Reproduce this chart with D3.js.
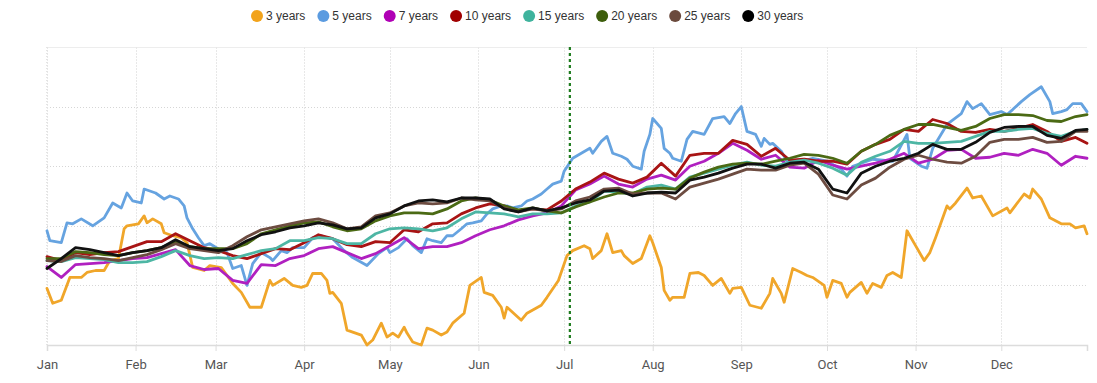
<!DOCTYPE html>
<html>
<head>
<meta charset="utf-8">
<script src="https://cdn.jsdelivr.net/npm/d3@7"></script>
<style>
  html, body { margin: 0; padding: 0; background: #fff; }
  svg { display: block; }
</style>
</head>
<body>
<svg id="chart" width="1097" height="383"></svg>
<script>
// ---------- DATA ----------
const year = 2023;
// shared sampling (day of year, 0 = Jan 1) for the clustered maturities
const daysCommon = [0,5,10,15,20,25,30,35,40,45,50,55,60,65,70,75,80,85,90,95,
  100,105,110,115,120,125,130,135,140,145,150,155,160,165,170,175,180,185,190,195,
  200,205,210,215,220,225,230,235,240,245,250,255,260,265,270,275,280,285,290,295,
  300,305,310,315,320,325,330,335,340,345,350,355,360,364];

// 3 years (finer sampling)
const days3 = [0,2,5,8,12,14,17,20,22,25, 27,28,32,34,35,37,40,41,44,47, 49,51,55,57,61,65,68,71,75,78,
  79,83,86,89,91,93,96,98,99,100, 103,105,110,112,114,117,119,121,123,125, 126,128,131,133,135,138,140,142,146,148,
  152,153,156,159,160,161,166,168,173,175, 179,182,184,188,190,191,194,196,198,201, 202,205,208,211,212,215,216,218,219,223,
  225,228,230,233,236,239,240,243,246,250, 253,254,257,258,261,264,266,268,272,273, 275,278,280,281,285,287,289,292,294,296,
  299,301,304,307,309,311,315,316,318,322, 324,327,331,336,337,342,344,345,348,351, 355,358,360,363,364];
const y3 = [57,42,45,68,68,73,75,75,85,87, 117,120,122,130,123,127,122,113,110,108, 103,78,75,80,78,62,53,38,38,65,
  60,67,60,58,60,72,72,65,52,53, 42,15,10,0,5,22,8,12,8,18, 12,3,0,17,15,10,13,22,32,60,
  68,53,50,38,27,38,25,32,40,48, 65,90,95,100,97,87,95,112,93,95, 90,82,87,110,103,78,55,45,48,48,
  72,73,70,60,67,52,57,58,40,37, 52,67,52,43,77,73,70,68,60,48, 65,62,48,53,63,52,62,58,70,73,
  68,115,100,85,93,108,140,137,143,158, 148,150,130,138,133,152,148,157,147,128, 122,122,118,120,112];

// 5 years (finer sampling)
const days5 = [0,1,5,7,9,12,16,20,23,26, 28,30,33,34,38,41,43,46,48,49, 51,53,55,57,61,63,65,68,70,72,
  75,78,79,82,84,86,90,93,96,98, 100,104,107,112,116,119,120,123,126,128, 131,133,135,138,140,142,145,147,149,152,
  154,156,159,161,163,166,168,170,173,175, 177,180,181,184,187,190,191,194,196,198, 201,203,205,208,209,211,212,215,216,218,
  219,222,224,226,230,233,237,239,241,243, 245,247,248,250,251,253,254,257,259,264, 268,273,278,280,282,289,296,301,302,306,
  308,310,315,320,322,324,327,330,334,336, 338,341,344,348,351,352,355,357,359,362, 364];
const y5 = [115,105,103,123,122,127,120,128,143,138, 153,145,143,157,153,147,150,147,140,128, 117,108,100,102,95,93,77,80,60,82,
  93,88,85,95,93,98,98,108,110,108, 107,95,88,80,92,98,93,98,107,100, 93,107,105,103,110,110,117,122,123,125,
  132,137,140,140,138,140,145,147,152,157, 162,165,175,188,193,198,193,205,210,193, 190,187,180,177,195,212,228,218,198,193,
  188,185,207,215,212,228,230,223,233,240, 215,213,212,200,208,202,203,195,185,185, 188,185,177,170,180,187,185,212,188,180,
  178,198,222,233,245,238,243,232,235,232, 237,245,252,260,245,233,235,237,243,243, 235];

const y7  = [79,68,81,82,83,85,87,88,92,96, 80,76,77,65,62,81,80,87,90,97, 99,93,87,92,100,108,97,99,99,103,
             110,116,120,126,130,133,140,156,162,170, 162,159,167,171,166,180,185,193,203,196, 187,191,179,178,186,181,177,180,183,187,
             193,183,187,196,197,188,189,193,191,197, 193,181,190,188];
const y10 = [89,85,93,91,93,94,99,104,104,112, 105,98,95,90,87,92,97,96,103,111, 107,101,99,104,103,116,114,122,123,132,
             138,142,140,135,137,136,145,157,164,173, 167,163,169,183,170,191,193,193,206,202, 190,198,186,187,185,185,182,195,202,207,
             217,215,227,223,215,214,217,215,218,222, 215,205,209,203];
const y15 = [85,84,88,87,86,83,83,84,89,95, 90,87,88,87,91,95,97,105,105,108, 107,102,102,112,117,118,117,115,118,127,
             134,133,132,129,132,132,133,140,144,155, 154,152,159,161,157,169,173,177,181,184, 181,180,184,186,183,178,171,184,190,195,
             205,203,203,204,205,210,215,215,217,218, 213,210,215,217];
const y20 = [87,87,94,93,91,90,93,95,98,104, 99,97,97,97,102,112,116,120,123,124, 119,115,117,125,130,133,133,132,137,145,
             148,146,140,136,138,135,133,139,144,149, 153,153,157,158,157,168,174,179,182,183, 182,185,188,192,191,188,183,195,202,211,
             217,222,222,219,216,220,228,232,232,231, 226,225,230,232];
const y25 = [85,84,90,88,87,85,88,91,96,102, 97,95,93,100,109,116,119,122,125,127, 123,117,119,130,133,140,143,142,143,148,
             146,145,138,134,137,135,137,145,149,157, 158,152,153,153,147,159,163,167,172,177, 176,176,181,183,172,151,147,161,168,179,
             187,191,187,184,183,190,204,207,207,209, 204,205,215,215];
const y30 = [77,87,98,96,93,90,93,95,98,106, 99,97,95,97,105,111,114,118,120,123, 121,117,118,128,132,140,145,146,144,148,
             148,147,137,134,138,135,138,143,146,155, 156,150,153,154,153,166,169,173,178,182, 182,178,183,184,177,157,153,173,180,185,
             188,193,202,197,197,204,214,219,220,220, 211,208,216,217];

const seriesNames  = ["3 years","5 years","7 years","10 years","15 years","20 years","25 years","30 years"];
const seriesColors = ["#f0a62a","#66a3e0","#b020c0","#a81414","#4db6a4","#4b6a14","#6d4c41","#111111"];
const legendColors = ["#f2a31b","#5b9be0","#b000b5","#a00000","#3fb39d","#3d5e0c","#6b4a3d","#000000"];
const seriesDays   = [days3, days5, daysCommon, daysCommon, daysCommon, daysCommon, daysCommon, daysCommon];
const seriesValues = [y3, y5, y7, y10, y15, y20, y25, y30];

const yTicks = [60, 120, 180, 240, 300];
const markerDay = 183; // Jul 3

// ---------- LAYOUT ----------
const svg = d3.select("#chart");
const plotLeft = 47, plotRight = 1087, plotTop = 47, plotBottom = 345;
const jan1 = new Date(year, 0, 1);
const dayToDate = d => d3.timeDay.offset(jan1, d);

const x = d3.scaleTime()
  .domain([jan1, new Date(year, 11, 31)])
  .range([plotLeft, plotRight]);
const y = d3.scaleLinear().domain([0, 300]).range([plotBottom, plotTop]);

// Horizontal grid
svg.append("g").selectAll("line").data(yTicks).join("line")
  .attr("x1", plotLeft).attr("x2", plotRight)
  .attr("y1", d => Math.round(y(d)) + 0.5).attr("y2", d => Math.round(y(d)) + 0.5)
  .attr("stroke", d => d === 300 ? "#ededed" : "#d6d6d6")
  .attr("stroke-width", 1)
  .attr("stroke-dasharray", d => d === 300 ? null : "1,2");

// Vertical grid at months
const months = x.ticks(d3.timeMonth.every(1));
svg.append("g").selectAll("line").data(months).join("line")
  .attr("x1", d => Math.round(x(d)) + 0.5).attr("x2", d => Math.round(x(d)) + 0.5)
  .attr("y1", plotTop).attr("y2", plotBottom)
  .attr("stroke", "#e8e8e8")
  .attr("stroke-width", 1)
  .attr("stroke-dasharray", "2,1");

// Left dotted edge
svg.append("line")
  .attr("x1", plotLeft).attr("x2", plotLeft).attr("y1", plotTop).attr("y2", plotBottom)
  .attr("stroke", "#e4e4e4").attr("stroke-width", 2).attr("stroke-dasharray", "1,2");

// X axis
const xAxis = d3.axisBottom(x)
  .ticks(d3.timeMonth.every(1))
  .tickFormat(d3.timeFormat("%b"))
  .tickSize(6)
  .tickPadding(9);
const gx = svg.append("g").attr("transform", `translate(0,${plotBottom})`).call(xAxis);
gx.select(".domain").attr("stroke", "#dcdcdc").attr("stroke-width", 1.5);
gx.selectAll(".tick line").attr("stroke", "#dcdcdc");
gx.selectAll(".tick text")
  .attr("fill", "#555")
  .style("font-family", "Roboto, 'Noto Sans', sans-serif")
  .style("font-size", "13px");

// Lines
const seriesData = seriesValues.map((vals, i) =>
  vals.map((v, j) => ({ date: dayToDate(seriesDays[i][j]), value: v })));
const line = d3.line()
  .x(d => x(d.date))
  .y(d => y(d.value));

svg.append("g").selectAll("path").data(seriesData).join("path")
  .attr("d", d => line(d))
  .attr("fill", "none")
  .attr("stroke", (d, i) => seriesColors[i])
  .attr("stroke-width", 2.8)
  .attr("stroke-linejoin", "round")
  .attr("stroke-linecap", "round");

// Marker line
svg.append("line")
  .attr("x1", x(dayToDate(markerDay))).attr("x2", x(dayToDate(markerDay)))
  .attr("y1", plotTop).attr("y2", plotBottom)
  .attr("stroke", "#1e7b1e").attr("stroke-width", 2.2)
  .attr("stroke-dasharray", "3,3");

// Legend
const legend = svg.append("g").attr("transform", "translate(251,16)");
let lx = 0;
seriesNames.forEach((name, i) => {
  const g = legend.append("g").attr("transform", `translate(${lx},0)`);
  g.append("circle").attr("cx", 6).attr("cy", 0).attr("r", 6).attr("fill", legendColors[i]);
  const t = g.append("text")
    .attr("x", 15).attr("y", 4.3)
    .attr("fill", "#333")
    .style("font-family", "'Liberation Sans', Arial, sans-serif")
    .style("font-size", "12px")
    .text(name);
  lx += 15 + t.node().getComputedTextLength() + 12;
});
</script>
</body>
</html>
